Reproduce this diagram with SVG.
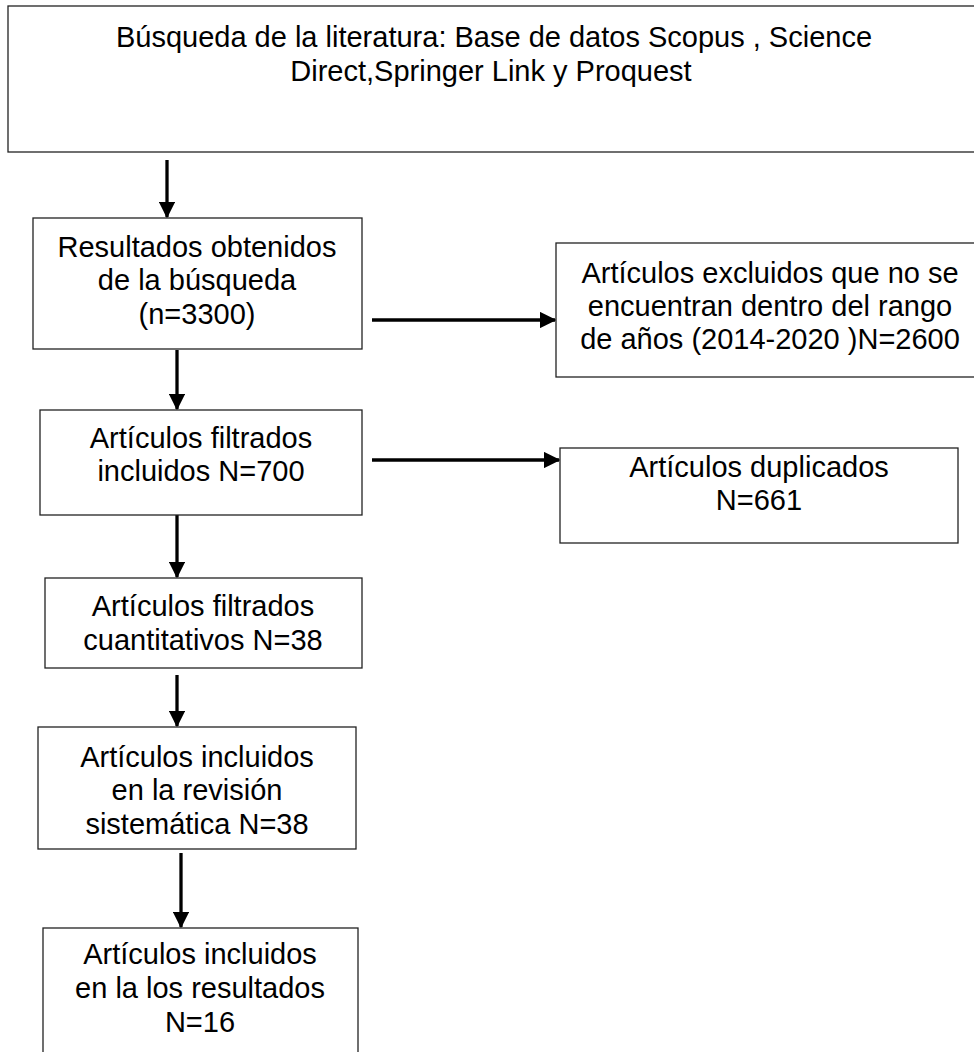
<svg xmlns="http://www.w3.org/2000/svg" width="974" height="1052" viewBox="0 0 974 1052">
<style>
.box{fill:#fff;stroke:#222;stroke-width:1.3}
.t{font-family:"Liberation Sans",Arial,sans-serif;font-size:29px;fill:#000;text-anchor:middle}
.c{stroke:#000;stroke-width:3.3;fill:none}
</style>
<defs>
<marker id="ah" markerWidth="5" markerHeight="5" refX="4.6" refY="2.5" orient="auto" markerUnits="strokeWidth" viewBox="0 0 5 5">
<path d="M0,0 L5,2.5 L0,5 Z" fill="#000"/>
</marker>
</defs>
<rect width="974" height="1052" fill="#fff"/>
<g id="connectors">
<line class="c" x1="167" y1="160" x2="167" y2="217" marker-end="url(#ah)"/>
<line class="c" x1="372" y1="320" x2="555" y2="320" marker-end="url(#ah)"/>
<line class="c" x1="177" y1="350" x2="177" y2="409" marker-end="url(#ah)"/>
<line class="c" x1="372" y1="460" x2="559" y2="460" marker-end="url(#ah)"/>
<line class="c" x1="177" y1="515" x2="177" y2="577" marker-end="url(#ah)"/>
<line class="c" x1="177" y1="675" x2="177" y2="726" marker-end="url(#ah)"/>
<line class="c" x1="181" y1="853" x2="181" y2="927" marker-end="url(#ah)"/>
</g>
<g id="n1">
<rect class="box" x="8" y="6" width="980" height="146"/>
<text class="t" x="494" y="47">Búsqueda de la literatura: Base de datos Scopus , Science</text>
<text class="t" x="491" y="81">Direct,Springer Link y Proquest</text>
</g>
<g id="n2">
<rect class="box" x="33" y="218" width="329" height="131"/>
<text class="t" x="197" y="257">Resultados obtenidos</text>
<text class="t" x="197" y="290">de la búsqueda</text>
<text class="t" x="197" y="324">(n=3300)</text>
</g>
<g id="n3">
<rect class="box" x="556" y="243" width="430" height="134"/>
<text class="t" x="770" y="283">Artículos excluidos que no se</text>
<text class="t" x="770" y="316">encuentran dentro del rango</text>
<text class="t" x="770" y="349">de años (2014-2020 )N=2600</text>
</g>
<g id="n4">
<rect class="box" x="40" y="410" width="322" height="105"/>
<text class="t" x="201" y="448">Artículos filtrados</text>
<text class="t" x="201" y="481">incluidos N=700</text>
</g>
<g id="n5">
<rect class="box" x="560" y="448" width="398" height="95"/>
<text class="t" x="759" y="477">Artículos duplicados</text>
<text class="t" x="759" y="510">N=661</text>
</g>
<g id="n6">
<rect class="box" x="45" y="578" width="317" height="90"/>
<text class="t" x="203" y="616">Artículos filtrados</text>
<text class="t" x="203" y="650">cuantitativos N=38</text>
</g>
<g id="n7">
<rect class="box" x="38" y="727" width="318" height="122"/>
<text class="t" x="197" y="767">Artículos incluidos</text>
<text class="t" x="197" y="800">en la revisión</text>
<text class="t" x="197" y="834">sistemática N=38</text>
</g>
<g id="n8">
<rect class="box" x="43" y="928" width="315" height="140"/>
<text class="t" x="200" y="964">Artículos incluidos</text>
<text class="t" x="200" y="998">en la los resultados</text>
<text class="t" x="200" y="1032">N=16</text>
</g>
</svg>
